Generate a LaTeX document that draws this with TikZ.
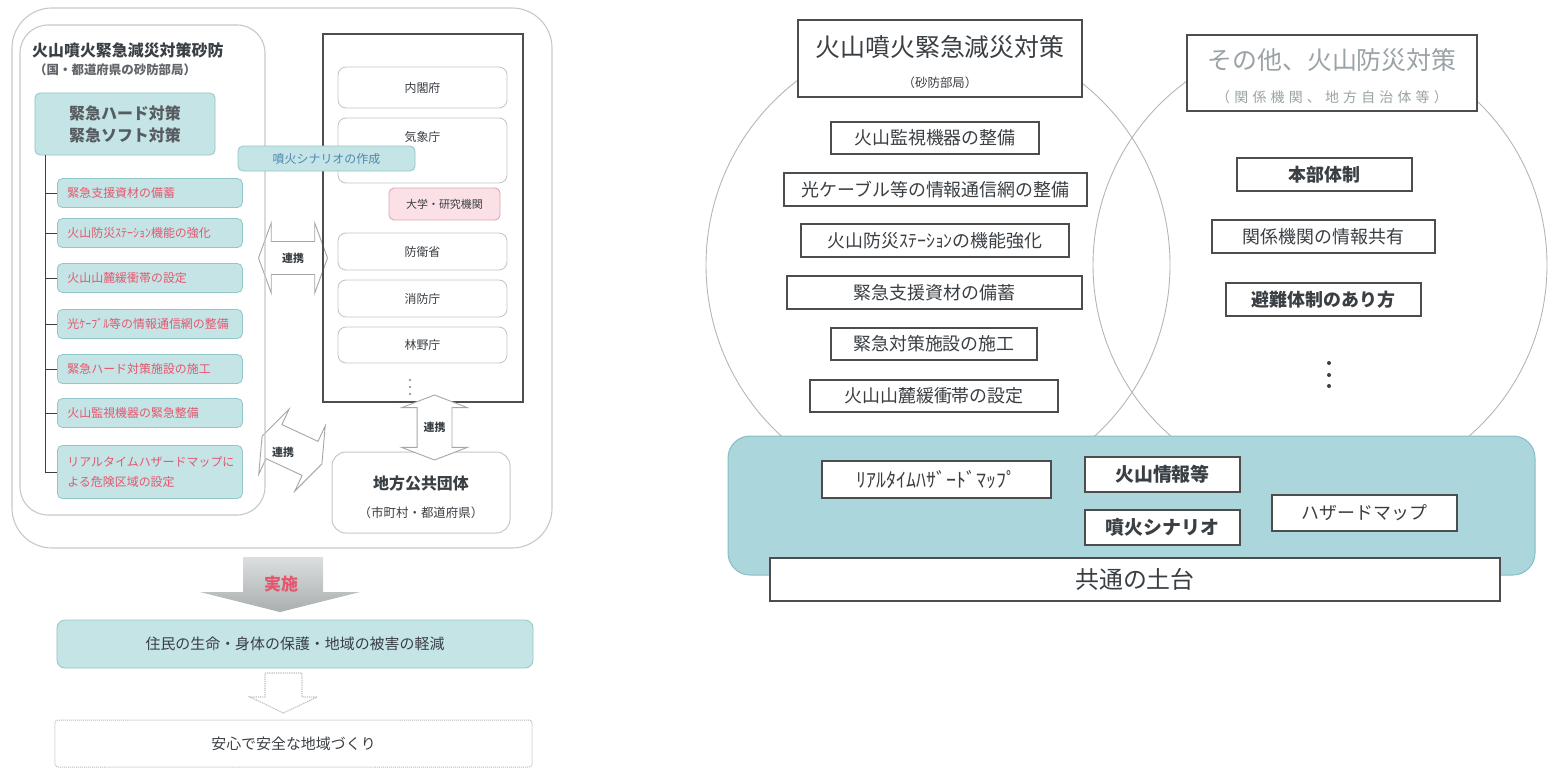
\documentclass[tikz,border=0pt]{standalone}
\usepackage{fontspec}
\setmainfont{Noto Sans CJK JP}
\newfontfamily\spaced[LetterSpace=30]{Noto Sans CJK JP}
\usetikzlibrary{shapes.arrows}
\definecolor{tealF}{HTML}{C5E4E5}
\definecolor{tealD}{HTML}{93C6CA}
\definecolor{redT}{HTML}{E4576F}
\definecolor{blueT}{HTML}{4F86B5}
\definecolor{pinkF}{HTML}{FBE0E6}
\definecolor{pinkD}{HTML}{DDA8B5}
\definecolor{panelL}{HTML}{C3C9C9}
\definecolor{bandF}{HTML}{ABD6DC}
\definecolor{bandD}{HTML}{86BEC6}
\definecolor{boxD}{HTML}{4D4D4D}
\definecolor{txt}{HTML}{3A3F44}
\definecolor{grayT}{HTML}{9AA3A6}
\definecolor{circ}{HTML}{B5B5B5}
\definecolor{arrowTop}{HTML}{DCDFDF}
\definecolor{arrowBot}{HTML}{A9AEAE}
\newcommand\fsz[1]{\fontsize{#1}{\dimexpr #1pt*6/5\relax}\selectfont}
\begin{document}
\begin{tikzpicture}[x=1bp,y=-1bp,
  sz/.style 2 args={minimum width=#1bp, minimum height=#2bp},
  lbox/.style={draw=tealD, fill=tealF, rounded corners=5bp, line width=0.8bp, inner sep=0pt},
  litem/.style={lbox, anchor=west, align=left, text width=165bp, inner xsep=10bp, minimum height=29bp, text=redT, font=\fsz{12}},
  wbox/.style={draw=panelL, fill=white, rounded corners=8bp, line width=0.9bp, inner sep=0pt, minimum width=169bp, text=txt, font=\fsz{12}},
  sbox/.style={draw=boxD, fill=white, line width=1.4bp, inner sep=0pt, text=txt},
  linkarrow/.style={double arrow, draw=gray!70, fill=white, line width=0.9bp, inner xsep=0pt, double arrow tip angle=140},
  linktext/.style={text=txt, font=\fsz{11}\bfseries},
  panel/.style={draw=panelL, line width=1.1bp},
  circle line/.style={draw=circ, line width=0.9bp}
]
\useasboundingbox (0,0) rectangle (1550,768);

% ---------------- LEFT PANEL ----------------
% link arrows (behind panels)
\node[linkarrow, inner ysep=16bp, sz={70}{69}, double arrow head extend=18.5bp] (harrow) at (293,258) {};
\node[linkarrow, inner ysep=17bp, sz={72}{66}, double arrow head extend=16bp, rotate=-25] (darrow) at (292,450) {};

\draw[panel, rounded corners=40bp] (12,8) rectangle (552,548);
\draw[panel, rounded corners=28bp] (20,25) rectangle (265,515);

\node[anchor=west, inner sep=0pt, text=txt, font=\fsz{16}\bfseries] (ltitle) at (32,50) {火山噴火緊急減災対策砂防};
\node[anchor=west, inner sep=0pt, text=txt!80, font=\fsz{12.5}\bfseries] (lsub) at (34,70) {（国・都道府県の砂防部局）};

\node[lbox, sz={180}{62}, align=center, text=txt!85, font=\fontsize{16}{22}\selectfont\bfseries] (head) at (125,124) {緊急ハード対策\\緊急ソフト対策};

\node[litem] (i1) at (57,193) {緊急支援資材の備蓄};
\node[litem] (i2) at (57,233) {火山防災ｽﾃｰｼｮﾝ機能の強化};
\node[litem] (i3) at (57,278) {火山山麓緩衝帯の設定};
\node[litem] (i4) at (57,324) {光ｹｰﾌﾞﾙ等の情報通信網の整備};
\node[litem] (i5) at (57,369) {緊急ハード対策施設の施工};
\node[litem] (i6) at (57,413) {火山監視機器の緊急整備};
\node[litem, minimum height=53bp, font=\fontsize{12}{21}\selectfont] (i7) at (57,472) {リアルタイムハザードマップに\\よる危険区域の設定};

\coordinate (trunk) at (45,155);
\draw[txt, line width=1bp] (trunk) |- (i7.west);
\foreach \k in {1,...,6} { \draw[txt, line width=1bp] (trunk |- i\k.west) -- (i\k.west); }

% right column box
\draw[boxD, line width=1.5bp] (323,34) rectangle (523,402);
\node[wbox, minimum height=41bp] (naikaku) at (422.5,87.5) {内閣府};
\node[wbox, minimum height=65bp] (kisho) at (422.5,150.5) {};
\node[inner sep=0pt, text=txt, font=\fsz{12}] (kishot) at (422.5,137) {気象庁};
\node[draw=pinkD, fill=pinkF, rounded corners=5bp, line width=0.9bp, inner sep=0pt, sz={111}{32}, text=txt, font=\fsz{11}] (univ) at (444.5,204) {大学・研究機関};
\node[wbox, minimum height=37bp] (boei) at (422.5,251.5) {防衛省};
\node[wbox, minimum height=37bp] (shobo) at (422.5,298.5) {消防庁};
\node[wbox, minimum height=36bp] (rinya) at (422.5,345) {林野庁};
\foreach \yy in {380,387,394} { \fill[gray] (410,\yy) circle (1.2bp); }

\node[lbox, sz={177}{25}, text=blueT, font=\fsz{12}] (scen) at (326.5,158.5) {噴火シナリオの作成};

\node[draw=panelL, fill=white, rounded corners=14bp, line width=1bp, sz={178}{81}] (chiho) at (421,492.5) {};
\node[inner sep=0pt, text=txt, font=\fsz{16}\bfseries] (chihot) at (421,483) {地方公共団体};
\node[inner sep=0pt, text=txt, font=\fsz{12.5}] (chihos) at (421,513) {（市町村・都道府県）};

\node[linkarrow, inner ysep=17bp, sz={65}{65}, double arrow head extend=15.5bp, double arrow tip angle=138, rotate=90] (varrow) at (434.5,427.5) {};

\node[linktext] (l1) at (293,258) {連携};
\node[linktext] (l2) at (434.5,427.5) {連携};
\node[linktext] (l3) at (283,452) {連携};

% bottom
\shade[top color=arrowTop, bottom color=arrowBot] (243,557) -- (323,557) -- (323,592) -- (360,592) -- (280,612) -- (200,592) -- (243,592) -- cycle;
\node[inner sep=0pt, text=redT, font=\fsz{17}\bfseries] (jisshit) at (281,584) {実施};
\node[lbox, rounded corners=8bp, sz={476}{48}, text=txt, font=\fsz{15}] (jumin) at (295,644) {住民の生命・身体の保護・地域の被害の軽減};
\draw[gray!50, densely dotted, line width=1.2bp] (265,673) -- (302,673) -- (302,697) -- (317,697) -- (283.5,713) -- (250,697) -- (265,697) -- cycle;
\node[draw=gray!55, densely dotted, line width=1bp, rounded corners=3bp, sz={477}{47}, text=txt, font=\fsz{15}] (anshin) at (293.5,743.5) {安心で安全な地域づくり};

% ---------------- RIGHT PANEL ----------------
\draw[circle line] (938,265) circle (232bp);
\draw[circle line] (1320,265) circle (227bp);

\node[sbox, sz={284}{77}] (hdrL) at (940,58.5) {};
\node[inner sep=0pt, text=txt, font=\fsz{25}] (hdrLt) at (940,47) {火山噴火緊急減災対策};
\node[inner sep=0pt, text=txt, font=\fsz{12.5}] (hdrLs) at (940,83) {（砂防部局）};
\node[sbox, sz={290}{76}] (hdrR) at (1332,73) {};
\node[inner sep=0pt, text=grayT, font=\fsz{25}] (hdrRt) at (1332,60) {その他、火山防災対策};
\node[inner sep=0pt, text=grayT, font=\spaced\fsz{14}] (hdrRs) at (1332,97) {（関係機関、地方自治体等）};

\node[sbox, sz={208}{32}, font=\fsz{18}] (a1) at (935,138) {火山監視機器の整備};
\node[sbox, sz={303}{33}, font=\fsz{18}] (a2) at (935.5,189.5) {光ケーブル等の情報通信網の整備};
\node[sbox, sz={268}{33}, font=\fsz{18}] (a3) at (935,240.5) {火山防災ｽﾃｰｼｮﾝの機能強化};
\node[sbox, sz={295}{33}, font=\fsz{18}] (a4) at (934.5,292.5) {緊急支援資材の備蓄};
\node[sbox, sz={206}{32}, font=\fsz{18}] (a5) at (934,344) {緊急対策施設の施工};
\node[sbox, sz={248}{32}, font=\fsz{18}] (a6) at (934,396) {火山山麓緩衝帯の設定};

\node[sbox, sz={175}{33}, font=\fsz{18}\bfseries] (b1) at (1324.5,174.5) {本部体制};
\node[sbox, sz={223}{33}, font=\fsz{18}] (b2) at (1323.5,236.5) {関係機関の情報共有};
\node[sbox, sz={195}{33}, font=\fsz{18}\bfseries] (b3) at (1323.5,299.5) {避難体制のあり方};
\foreach \yy in {363,375,386} { \fill[txt] (1329,\yy) circle (2bp); }

\draw[draw=bandD, fill=bandF, line width=1bp, rounded corners=22bp] (728,436) rectangle (1535,575);

\node[sbox, sz={229}{37}, font=\fsz{20}] (c1) at (936.5,479.5) {ﾘｱﾙﾀｲﾑﾊｻﾞｰﾄﾞﾏｯﾌﾟ};
\node[sbox, sz={155}{35}, font=\fsz{19}\bfseries] (c2) at (1162.5,474.5) {火山情報等};
\node[sbox, sz={155}{35}, font=\fsz{19}\bfseries] (c3) at (1162.5,527.5) {噴火シナリオ};
\node[sbox, sz={185}{36}, font=\fsz{18}] (c4) at (1364.5,513) {ハザードマップ};
\node[sbox, sz={730}{43}, font=\fsz{24}] (base) at (1135,579.5) {共通の土台};
\end{tikzpicture}
\end{document}
